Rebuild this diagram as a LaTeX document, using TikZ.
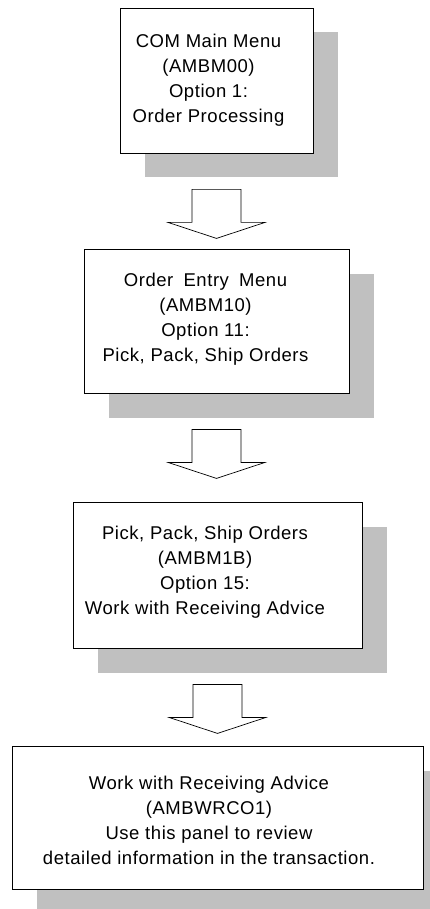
\documentclass[tikz,border=0pt]{standalone}
\usepackage{fontspec}
\setmainfont{Liberation Sans}[LetterSpace=3]
\usepackage{tikz}
\usetikzlibrary{shadows,calc}
\definecolor{shadowgray}{RGB}{192,192,192}

\begin{document}
\begin{tikzpicture}[x=1pt, y=-1pt,
    panel/.style={rectangle, draw=black, fill=white, line width=0.8pt, inner sep=0pt,
                  drop shadow={shadow xshift=24.5pt, shadow yshift=-24.5pt,
                               fill=shadowgray, opacity=1}},
    paneltext/.style={align=center, inner sep=0pt, font=\fontsize{18.5}{25}\selectfont},
    blockarrow/.style={draw=black, fill=white, line width=0.7pt}]
    \useasboundingbox (0,0) rectangle (430,909);
    % menu panels
    \node[panel, minimum width=193pt, minimum height=145pt] (com) at (216.5,80.5) {};
    \node[panel, minimum width=265pt, minimum height=144pt] (entry) at (216.5,321) {};
    \node[panel, minimum width=289pt, minimum height=146pt] (pps) at (217.5,575) {};
    \node[panel, minimum width=411pt, minimum height=143pt] (wrca) at (217.5,817.5) {};
    % panel texts
    \node[paneltext] (comtxt) at (208.5,79.9) {COM Main Menu\\(AMBM00)\\Option 1:\\Order Processing};
    \node[paneltext] (entrytxt) at (205.5,319.4) {Order\hspace{4.5pt} Entry\hspace{4.5pt} Menu\\(AMBM10)\\Option 11:\\Pick, Pack, Ship Orders};
    \node[paneltext] (ppstxt) at (205,571.9) {Pick, Pack, Ship Orders\\(AMBM1B)\\Option 15:\\Work with Receiving Advice};
    \node[paneltext] (wrcatxt) at (209,820.4) {Work with Receiving Advice\\(AMBWRCO1)\\Use this panel to review\\detailed information in the transaction.};
    % block arrows
    \foreach \a in {com,entry,pps}
        \draw[blockarrow] ([shift={(-24.5,36)}]\a.south) -- ++(49,0) -- ++(0,33) -- ++(24,0)
            -- ++(-48.5,16) -- ++(-48.5,-16) -- ++(24,0) -- cycle;
\end{tikzpicture}
\end{document}
